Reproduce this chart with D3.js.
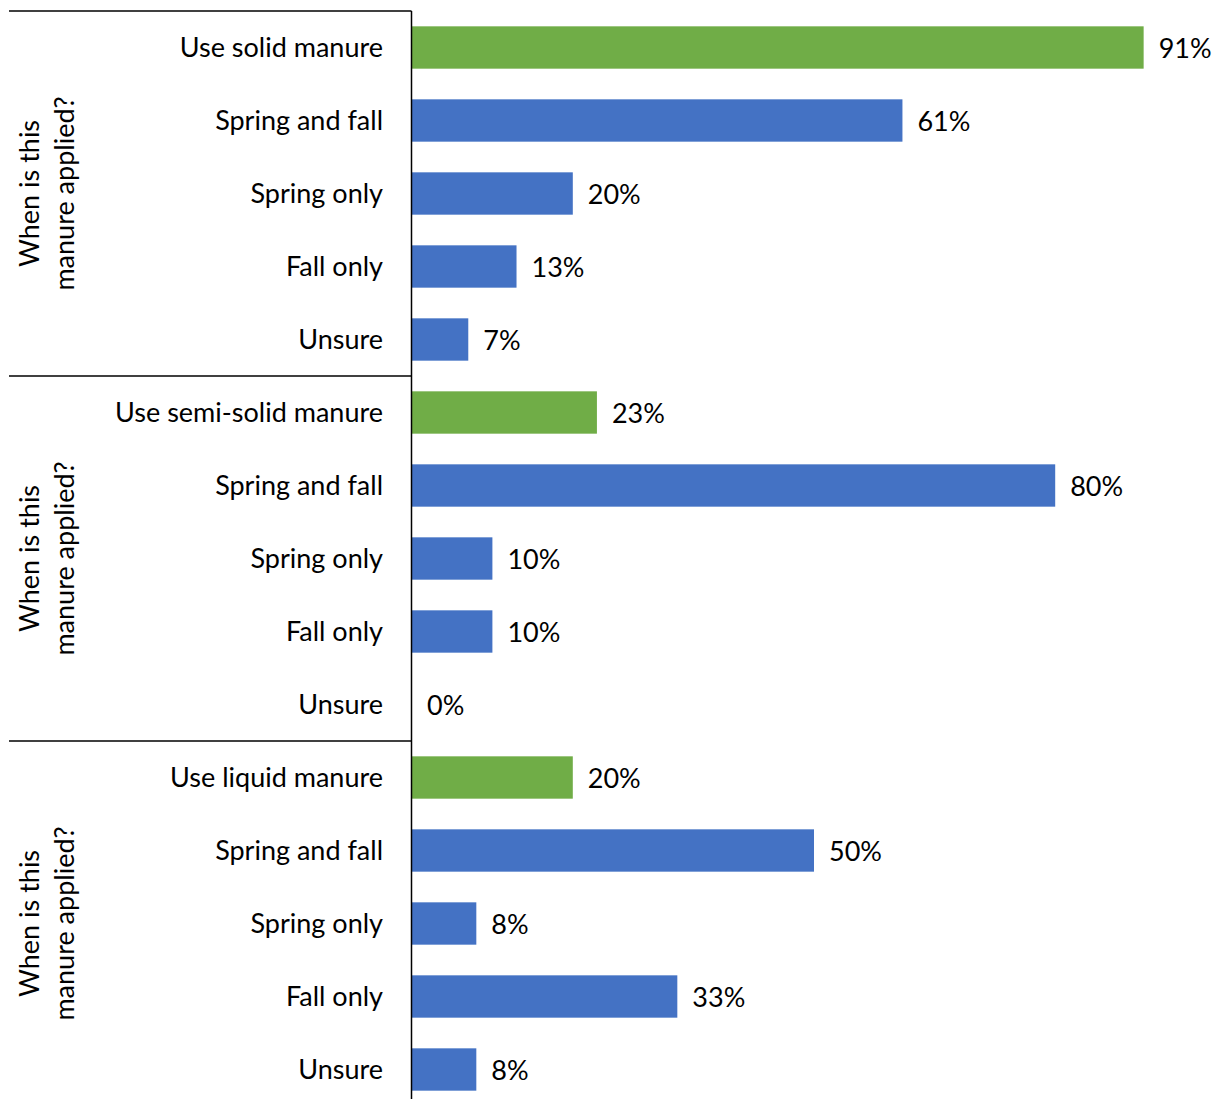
<!DOCTYPE html>
<html><head><meta charset="utf-8">
<script src="https://cdn.jsdelivr.net/npm/d3@7"></script>
<style>body{margin:0;background:#fff}svg{display:block}</style>
</head><body>
<script>
const categories = ["Use solid manure","Spring and fall","Spring only","Fall only","Unsure",
  "Use semi-solid manure","Spring and fall","Spring only","Fall only","Unsure",
  "Use liquid manure","Spring and fall","Spring only","Fall only","Unsure"];
const values = [91,61,20,13,7, 23,80,10,10,0, 20,50,8,33,8];
const isHeader = [1,0,0,0,0, 1,0,0,0,0, 1,0,0,0,0];
const groupLabel = ["When is this","manure applied?"];
const groups = [0,1,2];

(function(){
const W=1219,H=1099;
const svg=d3.select("body").append("svg").attr("width",W).attr("height",H);
const font="Lato, 'Open Sans', sans-serif";
const fs=27;
const axisX=411.5, plotTop=11, step=73;
const idx=d3.range(categories.length);
const y=d3.scaleBand().domain(idx).range([plotTop, plotTop+step*idx.length]).paddingInner(0.42).paddingOuter(0.21);
const x=d3.scaleLinear().domain([0,100]).range([412,1216]);

svg.selectAll("rect.bar").data(idx).join("rect")
  .attr("x",x(0)).attr("y",i=>y(i)).attr("width",i=>x(values[i])-x(0)).attr("height",y.bandwidth())
  .attr("fill",i=>isHeader[i]?"#70AD47":"#4472C4");

svg.selectAll("text.val").data(idx).join("text")
  .attr("x",i=>x(values[i])+15).attr("y",i=>y(i)+y.bandwidth()/2+3.5)
  .attr("dominant-baseline","middle").attr("font-family",font).attr("font-size",fs).attr("fill","#000")
  .text(i=>values[i]+"%");

svg.selectAll("text.cat").data(idx).join("text")
  .attr("x",383).attr("y",i=>y(i)+y.bandwidth()/2+2.5)
  .attr("text-anchor","end").attr("dominant-baseline","middle")
  .attr("font-family",font).attr("font-size",fs).attr("fill","#000")
  .text(i=>categories[i]);

svg.append("line").attr("x1",axisX).attr("x2",axisX).attr("y1",plotTop).attr("y2",H).attr("stroke","#000").attr("stroke-width",1.5);
groups.forEach(g=>{
  const yy=plotTop+g*5*step;
  svg.append("line").attr("x1",9).attr("x2",axisX).attr("y1",yy).attr("y2",yy).attr("stroke","#000").attr("stroke-width",1.5);
  const cy=yy+5*step/2;
  const t=svg.append("text").attr("transform",`translate(49,${cy}) rotate(-90)`)
    .attr("text-anchor","middle").attr("font-family",font).attr("font-size",fs).attr("fill","#000");
  t.append("tspan").attr("x",0).attr("y",-17).attr("dominant-baseline","middle").text(groupLabel[0]);
  t.append("tspan").attr("x",0).attr("y",18).attr("dominant-baseline","middle").text(groupLabel[1]);
});
})();
</script>
</body></html>
